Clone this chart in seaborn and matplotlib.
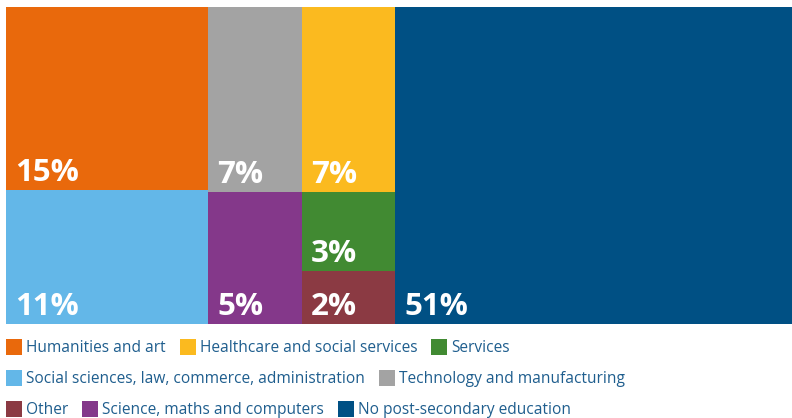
import matplotlib
matplotlib.use("Agg")
import matplotlib.pyplot as plt
from matplotlib.patches import Rectangle
import seaborn as sns

# Share of adults by field of highest post-secondary qualification (%)
categories = [
    "Humanities and art",
    "Social sciences, law, commerce, administration",
    "Technology and manufacturing",
    "Healthcare and social services",
    "Science, maths and computers",
    "Services",
    "Other",
    "No post-secondary education",
]
shares = [15, 11, 7, 7, 5, 3, 2, 51]
value_labels = [f"{v}%" for v in shares]

colors = {
    "Humanities and art": "#E9690C",
    "Social sciences, law, commerce, administration": "#63B7E8",
    "Technology and manufacturing": "#A3A3A3",
    "Healthcare and social services": "#FBBA1F",
    "Science, maths and computers": "#84388A",
    "Services": "#418A32",
    "Other": "#8B3A43",
    "No post-secondary education": "#005084",
}

legend_rows = [
    ["Humanities and art", "Healthcare and social services", "Services"],
    ["Social sciences, law, commerce, administration", "Technology and manufacturing"],
    ["Other", "Science, maths and computers", "No post-secondary education"],
]

# Nesting of the treemap: ("x" | "y", children); leaves are category indices
tree = ("x", [
    ("y", [0, 1]),
    ("y", [("x", [2, 3]), ("x", [4, ("y", [5, 6])])]),
    7,
])


def node_total(node):
    if isinstance(node, int):
        return shares[node]
    return sum(node_total(c) for c in node[1])


def layout(node, x, y, w, h, out):
    if isinstance(node, int):
        out[node] = (x, y, w, h)
        return
    direction, children = node
    t = node_total(node)
    pos = x if direction == "x" else y
    for c in children:
        frac = node_total(c) / t
        if direction == "x":
            layout(c, pos, y, w * frac, h, out)
            pos += w * frac
        else:
            layout(c, x, pos, w, h * frac, out)
            pos += h * frac


sns.set_theme(style="white")
plt.rcParams["font.family"] = ["Open Sans", "DejaVu Sans"]

W, H = 792, 418
fig = plt.figure(figsize=(W / 100, H / 100), dpi=100)
fig.patch.set_facecolor("white")

left, top, right, bottom = 6, 7, 792, 323.7
ax = fig.add_axes([left / W, 1 - bottom / H, (right - left) / W, (bottom - top) / H])
ax.set_xlim(0, 1)
ax.set_ylim(1, 0)
ax.axis("off")

rects = {}
layout(tree, 0.0, 0.0, 1.0, 1.0, rects)

for i, name in enumerate(categories):
    x, y, w, h = rects[i]
    ax.bar(x, h, width=w, bottom=y, align="edge", color=colors[name],
           linewidth=0)
    ax.annotate(value_labels[i], xy=(x, y + h), xytext=(9, 9),
                textcoords="offset pixels", ha="left", va="baseline",
                color="white", fontsize=22.5, fontweight="bold")

# Legend drawn in figure pixel coordinates
text_color = "#1F5E8E"
row_centers = [347, 378, 409]
fig.canvas.draw()
renderer = fig.canvas.get_renderer()
for row, yc in zip(legend_rows, row_centers):
    xpos = 6
    for name in row:
        fig.add_artist(Rectangle((xpos / W, 1 - (yc + 8) / H), 16 / W, 16 / H,
                                 transform=fig.transFigure,
                                 facecolor=colors[name], edgecolor="none"))
        t = fig.text((xpos + 20) / W, 1 - (yc + 1) / H, name, ha="left",
                     va="center", color=text_color, fontsize=11.2)
        bb = t.get_window_extent(renderer)
        xpos = bb.x1 + 14

fig.savefig("out.png", dpi=100, facecolor="white")
